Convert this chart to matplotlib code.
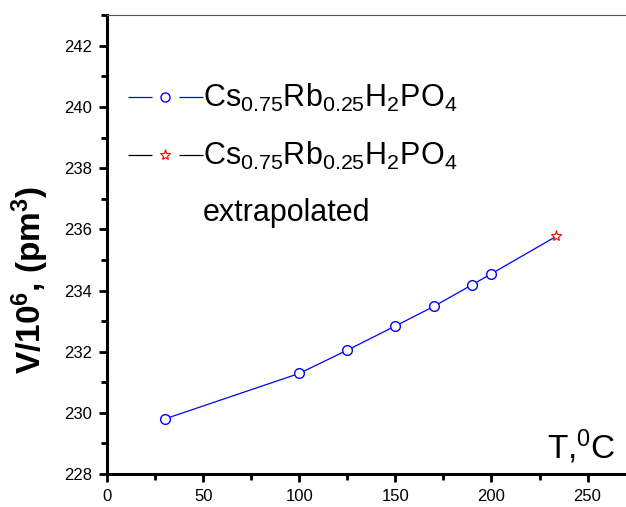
from matplotlib import pyplot as plt
from matplotlib.lines import Line2D
from matplotlib.ticker import MultipleLocator

plt.rcParams['font.family'] = ['Liberation Sans', 'DejaVu Sans']
plt.rcParams['mathtext.fontset'] = 'custom'
plt.rcParams['mathtext.rm'] = 'Liberation Sans'
plt.rcParams['mathtext.it'] = 'Liberation Sans'
plt.rcParams['mathtext.bf'] = 'Liberation Sans:bold'
plt.rcParams['mathtext.default'] = 'regular'

# measured points
T = [30, 100, 125, 150, 170, 190, 200]
V = [229.8, 231.29, 232.05, 232.84, 233.48, 234.19, 234.55]
# extrapolated point
T_ext = [233.7]
V_ext = [235.77]

fig = plt.figure(figsize=(6.26, 5.07), dpi=100)
ax = fig.add_axes([0.171, 0.065, 0.829, 0.905])

ax.plot(T + T_ext, V + V_ext, color='blue', lw=0.9, marker='o', ms=7,
        mfc='white', mec='blue', mew=1.0, markevery=list(range(len(T))))
ax.plot(T_ext, V_ext, ls='none', marker='*', ms=8, mfc='white', mec='red', mew=0.8)

ax.set_xlim(0, 270)
ax.set_ylim(228, 243)
ax.xaxis.set_major_locator(MultipleLocator(50))
ax.xaxis.set_minor_locator(MultipleLocator(25))
ax.yaxis.set_major_locator(MultipleLocator(2))
ax.yaxis.set_minor_locator(MultipleLocator(1))
ax.tick_params(which='both', direction='out', width=2, labelsize=12, top=False, right=False)
ax.tick_params(which='major', length=6, pad=5)
ax.tick_params(which='minor', length=4)

for s in ['left', 'bottom']:
    ax.spines[s].set_linewidth(2.2)
ax.spines['top'].set_color('#555555')
ax.spines['top'].set_linewidth(0.8)
ax.spines['right'].set_visible(False)

ax.set_ylabel('V/10$^{6}$, (pm$^{3}$)', fontsize=24, fontweight='bold')
ax.yaxis.set_label_coords(-0.108, 0.423)
ax.text(0.847, 0.018, 'T,$^{0}$C', transform=ax.transAxes, fontsize=24, ha='left', va='bottom')

# legend handles: line broken around the marker, Origin style
gap_ls = (0, (19.2, 21.6))
formula = 'Cs$_{0.75}$Rb$_{0.25}$H$_{2}$PO$_{4}$'
handles = [
    Line2D([], [], color='blue', lw=0.9, ls=gap_ls, marker='o', ms=6.5, mfc='white', mec='blue'),
    Line2D([], [], color='black', lw=0.9, ls=gap_ls, marker='*', ms=8, mfc='white', mec='red', mew=0.8),
    Line2D([], [], color='none'),
]
labels = [formula, formula, 'extrapolated']
ax.legend(handles, labels, loc='upper left', bbox_to_anchor=(0.040, 0.854), frameon=False,
          fontsize=22, handlelength=2.45, handletextpad=0.0, labelspacing=0.85,
          borderaxespad=0, borderpad=0)

fig.savefig('out.png', dpi=100)
